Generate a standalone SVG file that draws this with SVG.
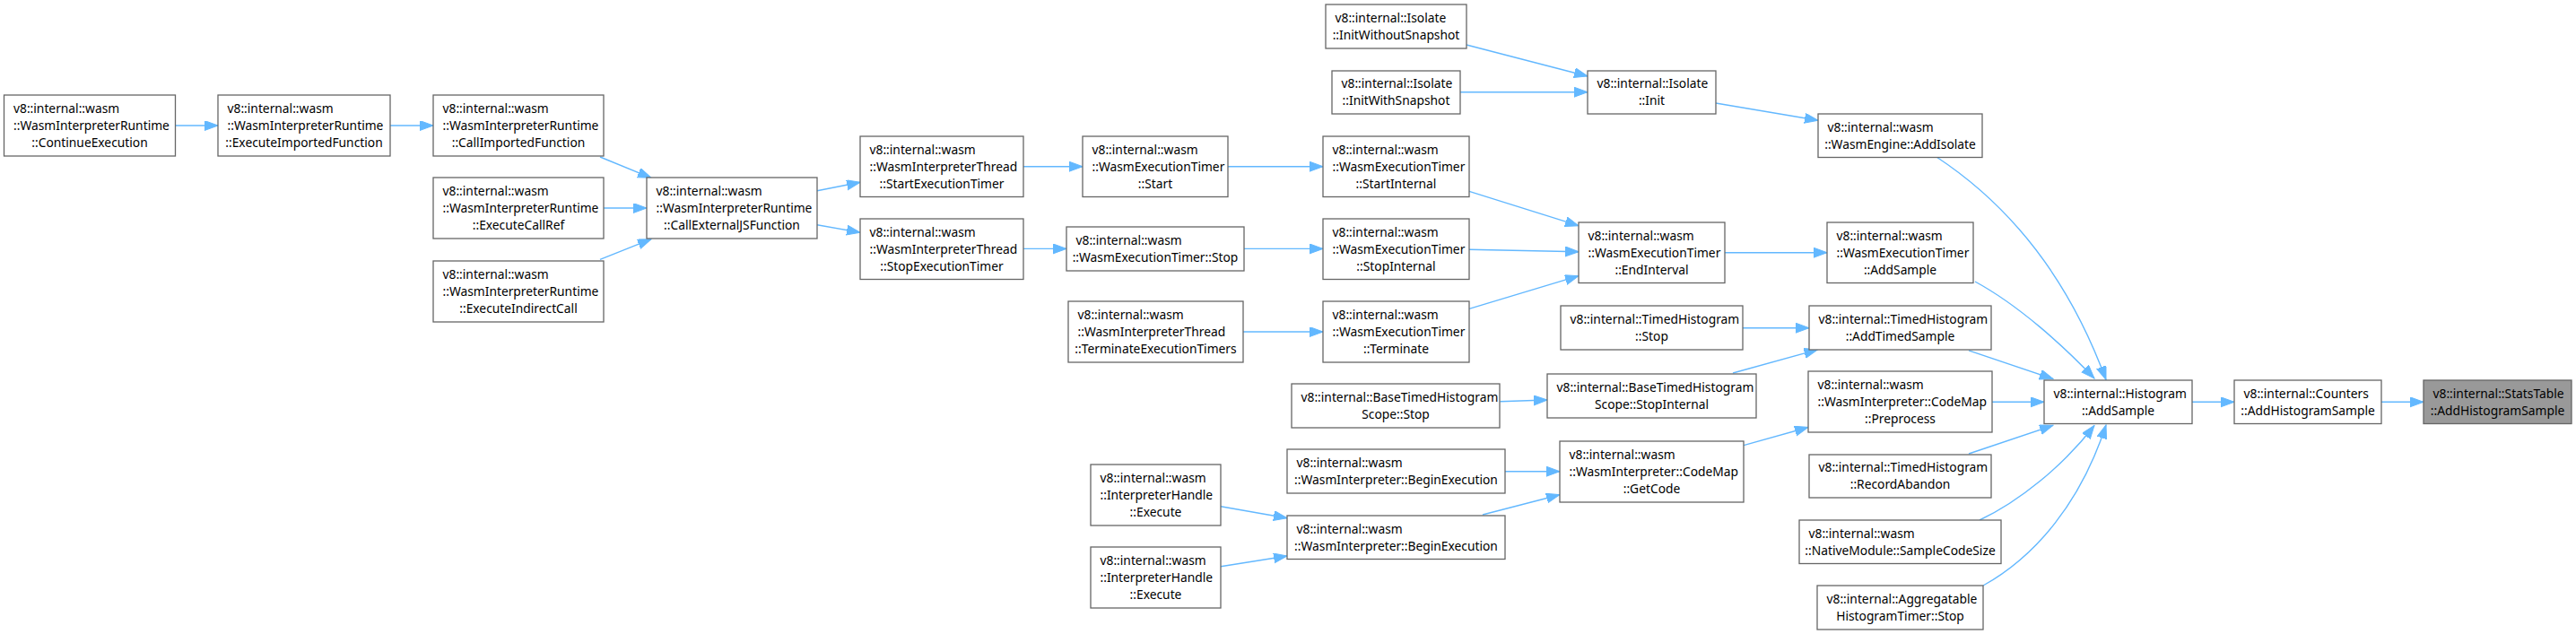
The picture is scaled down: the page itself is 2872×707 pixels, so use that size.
<svg xmlns="http://www.w3.org/2000/svg" width="2872" height="707" viewBox="0 0 2872 707">
<style>
.node rect{fill:#ffffff;stroke:#666666;stroke-width:1.3}
.node.hl rect{fill:#999999}
text{font-family:"Noto Sans","DejaVu Sans",sans-serif;font-size:13.8px;fill:#000000}
.c{text-anchor:middle}
.edges path{fill:none;stroke:#63b8ff;stroke-width:1.4;marker-end:url(#ah)}
</style>
<defs>
<marker id="ah" markerUnits="userSpaceOnUse" markerWidth="16" markerHeight="12" refX="15" refY="5.5" orient="auto">
<path d="M0,0 L15,5.5 L0,11 z" fill="#63b8ff" stroke="#63b8ff" stroke-width="1"/>
</marker>
</defs>
<rect x="0" y="0" width="2872" height="707" fill="#ffffff"/>
<g class="edges" id="edges">
<path d="M195.5,140 L243,140"/>
<path d="M435,140 L483,140"/>
<path d="M669,175 L726,198.3"/>
<path d="M673,232 L721,232"/>
<path d="M669,289.3 L726,266.7"/>
<path d="M911,212.7 L959,203.3"/>
<path d="M911,250.7 L959,259.3"/>
<path d="M1141,185.7 L1207,185.7"/>
<path d="M1141,277.4 L1189,277.4"/>
<path d="M1369,185.7 L1475,185.7"/>
<path d="M1387,277.4 L1475,277.4"/>
<path d="M1386,370 L1475,370"/>
<path d="M1638,213.3 L1760,251.7"/>
<path d="M1638,278.3 L1760,280.7"/>
<path d="M1638,344.3 L1760,307.7"/>
<path d="M1635,50 L1770,85"/>
<path d="M1628,102.7 L1770,102.7"/>
<path d="M1913,115 L2027,134.3"/>
<path d="M1923,281.7 L2037,281.7"/>
<path d="M1943,365.7 L2017,365.7"/>
<path d="M1672.5,447.7 L1725,446"/>
<path d="M1932,416 L2026.5,389.8"/>
<path d="M1678,525.7 L1739,525.7"/>
<path d="M1653,574 L1739,551.7"/>
<path d="M1361,564.7 L1435,577.7"/>
<path d="M1361,631.7 L1435,620"/>
<path d="M1944,496.7 L2016,476.5"/>
<path d="M2159,175 C2250,235 2310,320 2348,423.5"/>
<path d="M2202,314 C2250,340 2300,385 2335,422"/>
<path d="M2195,390.8 L2289,422.5"/>
<path d="M2221,448.3 L2279,448.3"/>
<path d="M2195,506 L2289,474.3"/>
<path d="M2207,580 C2250,560 2300,520 2335,474.5"/>
<path d="M2211,653 C2270,620 2320,560 2348,474"/>
<path d="M2444,448.3 L2491,448.3"/>
<path d="M2655,448.3 L2702,448.3"/>
</g>
<g id="n1" class="node"><rect x="4.5" y="106" width="191" height="68"/><text x="15" y="125.7">v8::internal::wasm</text><text x="15" y="144.7">::WasmInterpreterRuntime</text><text class="c" x="100" y="163.7">::ContinueExecution</text></g>
<g id="n2" class="node"><rect x="243" y="106" width="192" height="68"/><text x="253.5" y="125.7">v8::internal::wasm</text><text x="253.5" y="144.7">::WasmInterpreterRuntime</text><text class="c" x="339" y="163.7">::ExecuteImportedFunction</text></g>
<g id="n3" class="node"><rect x="483" y="106" width="190" height="68"/><text x="493.5" y="125.7">v8::internal::wasm</text><text x="493.5" y="144.7">::WasmInterpreterRuntime</text><text class="c" x="578" y="163.7">::CallImportedFunction</text></g>
<g id="n4" class="node"><rect x="483" y="198" width="190" height="68"/><text x="493.5" y="217.7">v8::internal::wasm</text><text x="493.5" y="236.7">::WasmInterpreterRuntime</text><text class="c" x="578" y="255.7">::ExecuteCallRef</text></g>
<g id="n5" class="node"><rect x="483" y="291" width="190" height="68"/><text x="493.5" y="310.7">v8::internal::wasm</text><text x="493.5" y="329.7">::WasmInterpreterRuntime</text><text class="c" x="578" y="348.7">::ExecuteIndirectCall</text></g>
<g id="n6" class="node"><rect x="721" y="198" width="190" height="68"/><text x="731.5" y="217.7">v8::internal::wasm</text><text x="731.5" y="236.7">::WasmInterpreterRuntime</text><text class="c" x="816" y="255.7">::CallExternalJSFunction</text></g>
<g id="n7" class="node"><rect x="959" y="152" width="182" height="67.5"/><text x="969.5" y="171.5">v8::internal::wasm</text><text x="969.5" y="190.5">::WasmInterpreterThread</text><text class="c" x="1050" y="209.5">::StartExecutionTimer</text></g>
<g id="n8" class="node"><rect x="959" y="244" width="182" height="67.5"/><text x="969.5" y="263.5">v8::internal::wasm</text><text x="969.5" y="282.5">::WasmInterpreterThread</text><text class="c" x="1050" y="301.5">::StopExecutionTimer</text></g>
<g id="n9" class="node"><rect x="1207" y="152" width="162" height="67.5"/><text x="1217.5" y="171.5">v8::internal::wasm</text><text x="1217.5" y="190.5">::WasmExecutionTimer</text><text class="c" x="1288" y="209.5">::Start</text></g>
<g id="n10" class="node"><rect x="1189" y="253" width="198" height="49"/><text x="1199.5" y="272.7">v8::internal::wasm</text><text class="c" x="1288" y="291.7">::WasmExecutionTimer::Stop</text></g>
<g id="n11" class="node"><rect x="1191" y="336" width="195" height="68"/><text x="1201.5" y="355.7">v8::internal::wasm</text><text x="1201.5" y="374.7">::WasmInterpreterThread</text><text class="c" x="1288.5" y="393.7">::TerminateExecutionTimers</text></g>
<g id="n12" class="node"><rect x="1475" y="152" width="163" height="67.5"/><text x="1485.5" y="171.5">v8::internal::wasm</text><text x="1485.5" y="190.5">::WasmExecutionTimer</text><text class="c" x="1556.5" y="209.5">::StartInternal</text></g>
<g id="n13" class="node"><rect x="1475" y="244" width="163" height="67.5"/><text x="1485.5" y="263.5">v8::internal::wasm</text><text x="1485.5" y="282.5">::WasmExecutionTimer</text><text class="c" x="1556.5" y="301.5">::StopInternal</text></g>
<g id="n14" class="node"><rect x="1475" y="336" width="163" height="68"/><text x="1485.5" y="355.7">v8::internal::wasm</text><text x="1485.5" y="374.7">::WasmExecutionTimer</text><text class="c" x="1556.5" y="393.7">::Terminate</text></g>
<g id="n15" class="node"><rect x="1478" y="5" width="157" height="49"/><text x="1488.5" y="24.7">v8::internal::Isolate</text><text class="c" x="1556.5" y="43.7">::InitWithoutSnapshot</text></g>
<g id="n16" class="node"><rect x="1485" y="79" width="143" height="48"/><text x="1495.5" y="98.2">v8::internal::Isolate</text><text class="c" x="1556.5" y="117.2">::InitWithSnapshot</text></g>
<g id="n17" class="node"><rect x="1770" y="79" width="143" height="48"/><text x="1780.5" y="98.2">v8::internal::Isolate</text><text class="c" x="1841.5" y="117.2">::Init</text></g>
<g id="n18" class="node"><rect x="1760" y="248" width="163" height="67.5"/><text x="1770.5" y="267.5">v8::internal::wasm</text><text x="1770.5" y="286.5">::WasmExecutionTimer</text><text class="c" x="1841.5" y="305.5">::EndInterval</text></g>
<g id="n19" class="node"><rect x="2027" y="127" width="183" height="48.5"/><text x="2037.5" y="146.5">v8::internal::wasm</text><text class="c" x="2118.5" y="165.5">::WasmEngine::AddIsolate</text></g>
<g id="n20" class="node"><rect x="2037" y="248" width="163" height="67.5"/><text x="2047.5" y="267.5">v8::internal::wasm</text><text x="2047.5" y="286.5">::WasmExecutionTimer</text><text class="c" x="2118.5" y="305.5">::AddSample</text></g>
<g id="n21" class="node"><rect x="1740" y="341" width="203" height="49"/><text x="1750.5" y="360.7">v8::internal::TimedHistogram</text><text class="c" x="1841.5" y="379.7">::Stop</text></g>
<g id="n22" class="node"><rect x="2017" y="341" width="203" height="49"/><text x="2027.5" y="360.7">v8::internal::TimedHistogram</text><text class="c" x="2118.5" y="379.7">::AddTimedSample</text></g>
<g id="n23" class="node"><rect x="1440" y="428" width="232" height="49"/><text x="1450.5" y="447.7">v8::internal::BaseTimedHistogram</text><text class="c" x="1556" y="466.7">Scope::Stop</text></g>
<g id="n24" class="node"><rect x="1725" y="417" width="233" height="49"/><text x="1735.5" y="436.7">v8::internal::BaseTimedHistogram</text><text class="c" x="1841.5" y="455.7">Scope::StopInternal</text></g>
<g id="n25" class="node"><rect x="2016" y="414" width="205" height="68"/><text x="2026.5" y="433.7">v8::internal::wasm</text><text x="2026.5" y="452.7">::WasmInterpreter::CodeMap</text><text class="c" x="2118.5" y="471.7">::Preprocess</text></g>
<g id="n26" class="node"><rect x="2279" y="424" width="165" height="48.5"/><text x="2289.5" y="443.5">v8::internal::Histogram</text><text class="c" x="2361.5" y="462.5">::AddSample</text></g>
<g id="n27" class="node"><rect x="2491" y="424" width="164" height="48.5"/><text x="2501.5" y="443.5">v8::internal::Counters</text><text class="c" x="2573" y="462.5">::AddHistogramSample</text></g>
<g id="n28" class="node hl"><rect x="2702" y="424" width="165" height="48.5"/><text x="2712.5" y="443.5">v8::internal::StatsTable</text><text class="c" x="2784.5" y="462.5">::AddHistogramSample</text></g>
<g id="n29" class="node"><rect x="1435" y="501" width="243" height="49"/><text x="1445.5" y="520.7">v8::internal::wasm</text><text class="c" x="1556.5" y="539.7">::WasmInterpreter::BeginExecution</text></g>
<g id="n30" class="node"><rect x="1739" y="492" width="205" height="68"/><text x="1749.5" y="511.7">v8::internal::wasm</text><text x="1749.5" y="530.7">::WasmInterpreter::CodeMap</text><text class="c" x="1841.5" y="549.7">::GetCode</text></g>
<g id="n31" class="node"><rect x="2017" y="507" width="203" height="48"/><text x="2027.5" y="526.2">v8::internal::TimedHistogram</text><text class="c" x="2118.5" y="545.2">::RecordAbandon</text></g>
<g id="n32" class="node"><rect x="1216" y="518" width="145" height="68"/><text x="1226.5" y="537.7">v8::internal::wasm</text><text x="1226.5" y="556.7">::InterpreterHandle</text><text class="c" x="1288.5" y="575.7">::Execute</text></g>
<g id="n33" class="node"><rect x="1435" y="575" width="243" height="48.5"/><text x="1445.5" y="594.5">v8::internal::wasm</text><text class="c" x="1556.5" y="613.5">::WasmInterpreter::BeginExecution</text></g>
<g id="n34" class="node"><rect x="1216" y="610" width="145" height="68"/><text x="1226.5" y="629.7">v8::internal::wasm</text><text x="1226.5" y="648.7">::InterpreterHandle</text><text class="c" x="1288.5" y="667.7">::Execute</text></g>
<g id="n35" class="node"><rect x="2006" y="580" width="225" height="48.5"/><text x="2016.5" y="599.5">v8::internal::wasm</text><text class="c" x="2118.5" y="618.5">::NativeModule::SampleCodeSize</text></g>
<g id="n36" class="node"><rect x="2026" y="653" width="185" height="49"/><text x="2036.5" y="672.7">v8::internal::Aggregatable</text><text class="c" x="2118.5" y="691.7">HistogramTimer::Stop</text></g>
</svg>
